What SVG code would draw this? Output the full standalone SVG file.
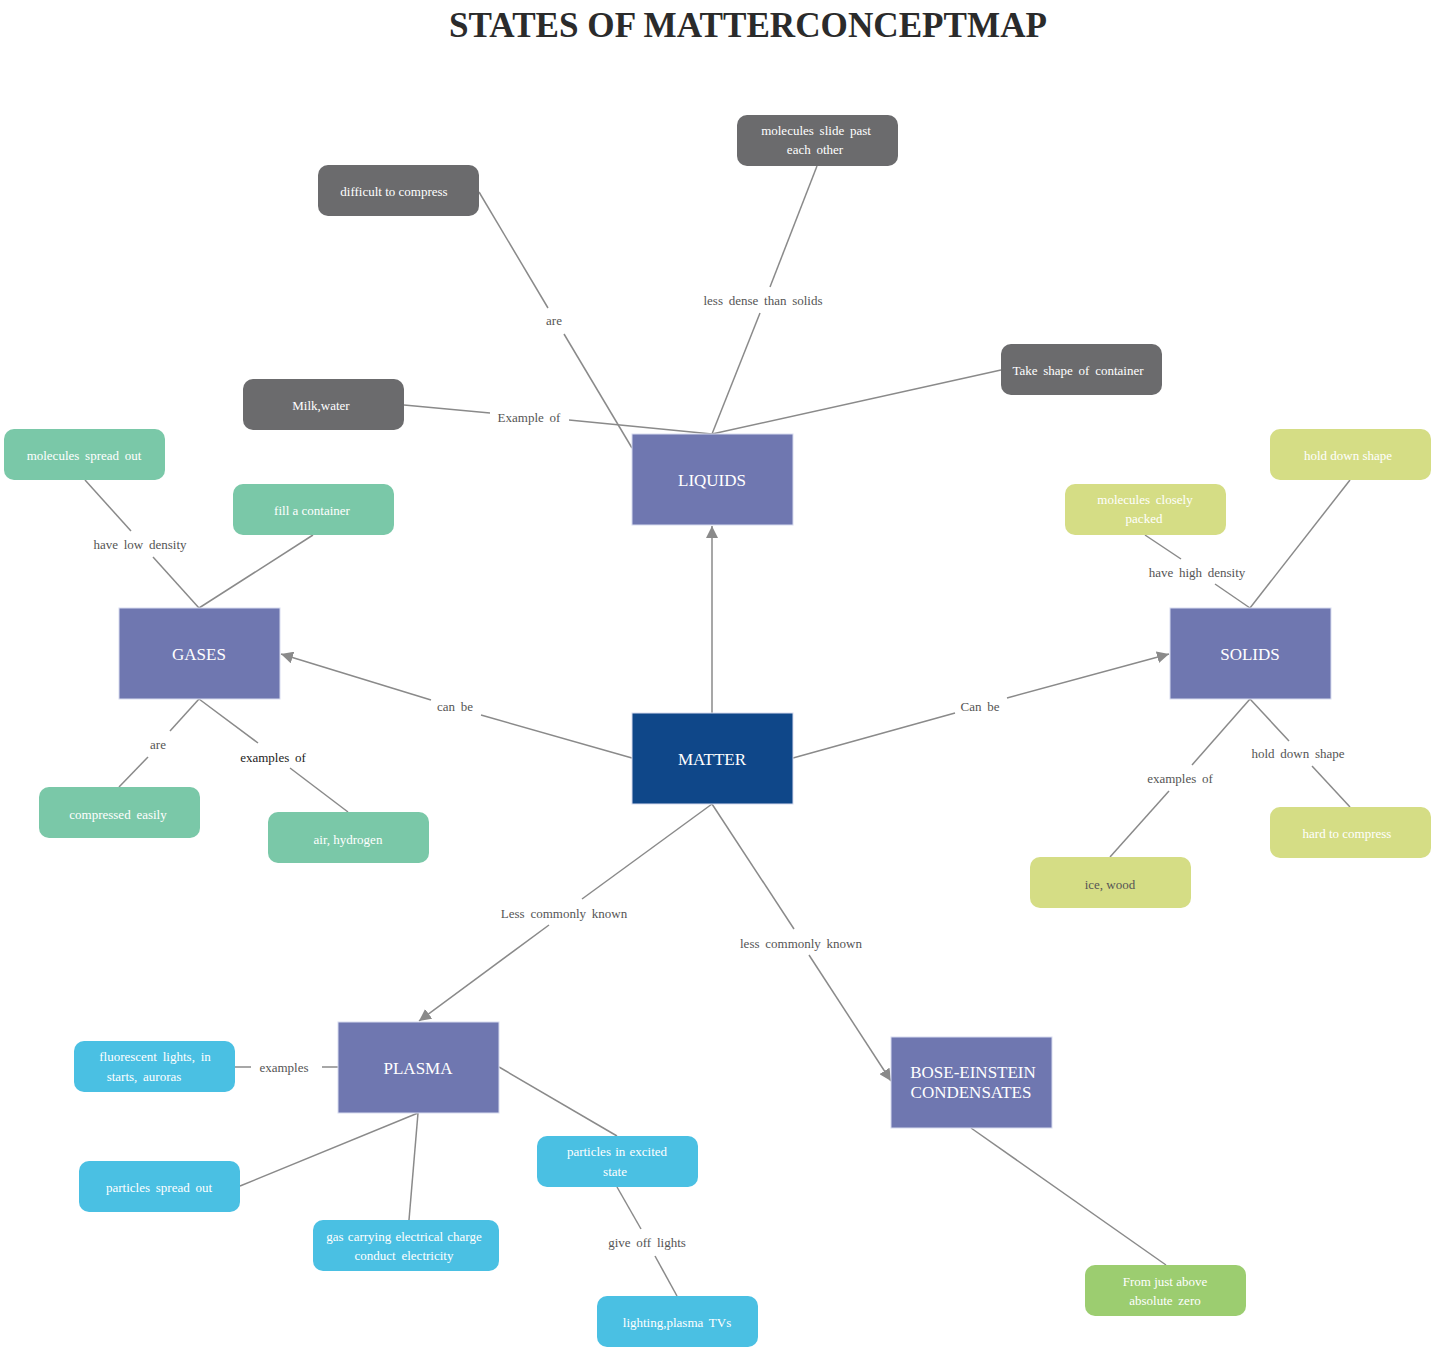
<svg xmlns="http://www.w3.org/2000/svg" width="1433" height="1350" viewBox="0 0 1433 1350">
<defs>
<style>
.title{font-family:"Liberation Serif","Times New Roman",serif;font-weight:bold;font-size:36px;fill:#2b2b2b}
.main rect{stroke:#d8dcef;stroke-width:1}
.main text{font-family:"Liberation Serif","Times New Roman",serif;font-size:17px;fill:#ffffff;text-anchor:middle}
.sub text{font-family:"Liberation Serif","Times New Roman",serif;font-size:13px;fill:#ffffff;text-anchor:middle;word-spacing:2.5px}
.gray rect{fill:#6b6b6d}
.green rect{fill:#7ac8a8}
.yel rect{fill:#d5dd85}
.blue rect{fill:#4ac0e3}
.lg rect{fill:#9ccd70}
.lines line{stroke:#8a8a8a;stroke-width:1.5}
.lab{font-family:"Liberation Serif","Times New Roman",serif;font-size:13px;fill:#555555;text-anchor:middle;word-spacing:2.5px}
</style>
<marker id="arr" markerWidth="14" markerHeight="12" refX="12" refY="6" orient="auto" markerUnits="userSpaceOnUse">
<path d="M0,0 L12,6 L0,12 Z" fill="#8a8a8a"/>
</marker>
</defs>
<rect width="1433" height="1350" fill="#ffffff"/>
<text class="title" x="748" y="37" text-anchor="middle" textLength="598" lengthAdjust="spacingAndGlyphs">STATES OF MATTERCONCEPTMAP</text>

<g id="connectors" class="lines">
<line x1="479" y1="192" x2="548" y2="308"/>
<line x1="564" y1="334" x2="632" y2="448"/>
<line x1="817" y1="166" x2="770" y2="287"/>
<line x1="760" y1="313" x2="712" y2="434"/>
<line x1="404" y1="405" x2="490" y2="413"/>
<line x1="569" y1="420" x2="712" y2="434"/>
<line x1="1001" y1="370" x2="712" y2="434"/>
<line x1="712" y1="713" x2="712" y2="526" marker-end="url(#arr)"/>
<line x1="632" y1="758" x2="481" y2="715"/>
<line x1="431" y1="700" x2="281" y2="654" marker-end="url(#arr)"/>
<line x1="85" y1="480" x2="131" y2="531"/>
<line x1="153" y1="557" x2="199" y2="608"/>
<line x1="199" y1="608" x2="313" y2="535"/>
<line x1="199" y1="699" x2="170" y2="731"/>
<line x1="148" y1="757" x2="119" y2="787"/>
<line x1="199" y1="699" x2="258" y2="743"/>
<line x1="290" y1="768" x2="348" y2="812"/>
<line x1="793" y1="758" x2="955" y2="713"/>
<line x1="1007" y1="698" x2="1169" y2="654" marker-end="url(#arr)"/>
<line x1="1145" y1="535" x2="1181" y2="559"/>
<line x1="1215" y1="584" x2="1250" y2="608"/>
<line x1="1250" y1="608" x2="1350" y2="480"/>
<line x1="1250" y1="699" x2="1192" y2="765"/>
<line x1="1169" y1="791" x2="1110" y2="857"/>
<line x1="1250" y1="699" x2="1289" y2="741"/>
<line x1="1312" y1="766" x2="1350" y2="807"/>
<line x1="712" y1="804" x2="582" y2="899"/>
<line x1="549" y1="925" x2="419" y2="1021" marker-end="url(#arr)"/>
<line x1="235" y1="1067" x2="251" y2="1067"/>
<line x1="322" y1="1067" x2="338" y2="1067"/>
<line x1="418" y1="1113" x2="240" y2="1186"/>
<line x1="418" y1="1113" x2="409" y2="1220"/>
<line x1="499" y1="1067" x2="617" y2="1136"/>
<line x1="617" y1="1187" x2="641" y2="1229"/>
<line x1="655" y1="1256" x2="677" y2="1296"/>
<line x1="712" y1="804" x2="794" y2="929"/>
<line x1="809" y1="955" x2="891" y2="1081" marker-end="url(#arr)"/>
<line x1="971" y1="1128" x2="1166" y2="1265"/>
</g>

<g id="labels">
<text class="lab" x="554" y="325">are</text>
<text class="lab" x="763" y="305">less dense than solids</text>
<text class="lab" x="529" y="422">Example of</text>
<text class="lab" x="455" y="711">can be</text>
<text class="lab" x="140" y="549">have low density</text>
<text class="lab" x="158" y="749">are</text>
<text class="lab" x="273" y="762" style="fill:#222222">examples of</text>
<text class="lab" x="980" y="711">Can be</text>
<text class="lab" x="1197" y="577">have high density</text>
<text class="lab" x="1180" y="783">examples of</text>
<text class="lab" x="1298" y="758">hold down shape</text>
<text class="lab" x="564" y="918">Less commonly known</text>
<text class="lab" x="284" y="1072">examples</text>
<text class="lab" x="647" y="1247">give off lights</text>
<text class="lab" x="801" y="948">less commonly known</text>
</g>

<g id="node-matter" class="main"><rect x="632" y="713" width="161" height="91" fill="#0f4789"/><text x="712" y="765">MATTER</text></g>
<g id="node-liquids" class="main"><rect x="632" y="434" width="161" height="91" fill="#6f77b0"/><text x="712" y="486">LIQUIDS</text></g>
<g id="node-gases" class="main"><rect x="119" y="608" width="161" height="91" fill="#6f77b0"/><text x="199" y="660">GASES</text></g>
<g id="node-solids" class="main"><rect x="1170" y="608" width="161" height="91" fill="#6f77b0"/><text x="1250" y="660">SOLIDS</text></g>
<g id="node-plasma" class="main"><rect x="338" y="1022" width="161" height="91" fill="#6f77b0"/><text x="418" y="1074">PLASMA</text></g>
<g id="node-bec" class="main"><rect x="891" y="1037" width="161" height="91" fill="#6f77b0"/><text x="973" y="1078">BOSE-EINSTEIN</text><text x="971" y="1098">CONDENSATES</text></g>

<g id="node-difficult" class="sub gray"><rect x="318" y="165" width="161" height="51" rx="10"/><text x="394" y="196" style="word-spacing:0">difficult to compress</text></g>
<g id="node-slide" class="sub gray"><rect x="737" y="115" width="161" height="51" rx="10"/><text x="816" y="135">molecules slide past</text><text x="815" y="154">each other</text></g>
<g id="node-milk" class="sub gray"><rect x="243" y="379" width="161" height="51" rx="10"/><text x="321" y="410">Milk,water</text></g>
<g id="node-takeshape" class="sub gray"><rect x="1001" y="344" width="161" height="51" rx="10"/><text x="1078" y="375">Take shape of container</text></g>

<g id="node-spread" class="sub green"><rect x="4" y="429" width="161" height="51" rx="10"/><text x="84" y="460">molecules spread out</text></g>
<g id="node-fill" class="sub green"><rect x="233" y="484" width="161" height="51" rx="10"/><text x="312" y="515" style="word-spacing:0">fill a container</text></g>
<g id="node-compressed" class="sub green"><rect x="39" y="787" width="161" height="51" rx="10"/><text x="118" y="819">compressed easily</text></g>
<g id="node-air" class="sub green"><rect x="268" y="812" width="161" height="51" rx="10"/><text x="348" y="844" style="word-spacing:0">air, hydrogen</text></g>

<g id="node-holdshape" class="sub yel"><rect x="1270" y="429" width="161" height="51" rx="10"/><text x="1348" y="460" style="word-spacing:0">hold down shape</text></g>
<g id="node-closely" class="sub yel"><rect x="1065" y="484" width="161" height="51" rx="10"/><text x="1145" y="504">molecules closely</text><text x="1144" y="523">packed</text></g>
<g id="node-hard" class="sub yel"><rect x="1270" y="807" width="161" height="51" rx="10"/><text x="1347" y="838" style="word-spacing:0">hard to compress</text></g>
<g id="node-ice" class="sub yel"><rect x="1030" y="857" width="161" height="51" rx="10"/><text x="1110" y="889" style="fill:#555555;word-spacing:0">ice, wood</text></g>

<g id="node-fluorescent" class="sub blue"><rect x="74" y="1041" width="161" height="51" rx="10"/><text x="155" y="1061">fluorescent lights, in</text><text x="144" y="1081">starts, auroras</text></g>
<g id="node-pspread" class="sub blue"><rect x="79" y="1161" width="161" height="51" rx="10"/><text x="159" y="1192">particles spread out</text></g>
<g id="node-gas" class="sub blue"><rect x="313" y="1220" width="186" height="51" rx="10"/><text x="404" y="1241" style="word-spacing:1px">gas carrying electrical charge</text><text x="404" y="1260">conduct electricity</text></g>
<g id="node-excited" class="sub blue"><rect x="537" y="1136" width="161" height="51" rx="10"/><text x="617" y="1156" style="word-spacing:1px">particles in excited</text><text x="615" y="1176">state</text></g>
<g id="node-lighting" class="sub blue"><rect x="597" y="1296" width="161" height="51" rx="10"/><text x="677" y="1327">lighting,plasma TVs</text></g>

<g id="node-zero" class="sub lg"><rect x="1085" y="1265" width="161" height="51" rx="10"/><text x="1165" y="1286" style="word-spacing:0">From just above</text><text x="1165" y="1305">absolute zero</text></g>
</svg>
